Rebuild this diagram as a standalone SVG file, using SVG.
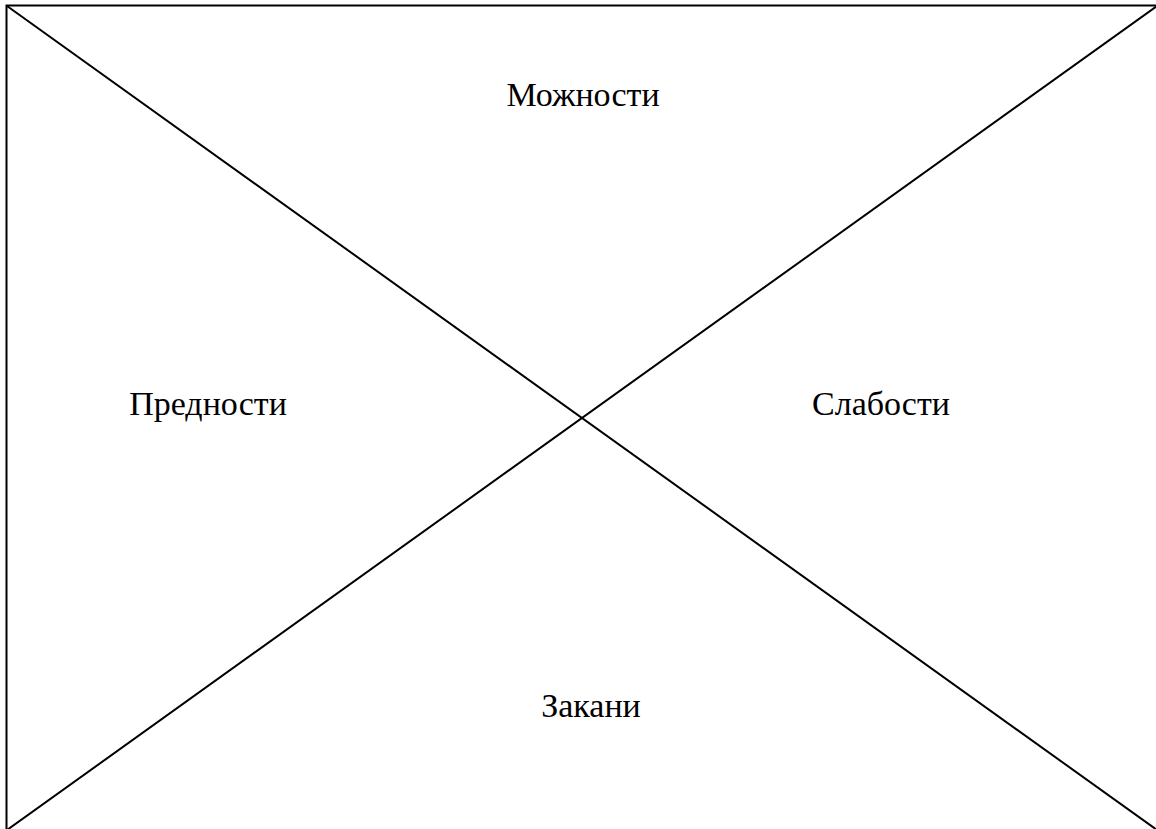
<svg xmlns="http://www.w3.org/2000/svg" width="1156" height="829" viewBox="0 0 1156 829">
<style>
.ln{stroke:#000;stroke-width:2;fill:none}
.lb{font-family:"Liberation Serif","Times New Roman",serif;font-size:34px;fill:#000;text-anchor:middle}
</style>
<rect width="1156" height="829" fill="#fff"/>
<g id="connectors">
<rect class="ln" x="6.5" y="5.5" width="1152" height="826"/>
<line class="ln" x1="7" y1="6" x2="1157" y2="830"/>
<line class="ln" x1="7" y1="830" x2="1157" y2="6"/>
</g>
<g id="opportunities"><text class="lb" x="583" y="106">Можности</text></g>
<g id="strengths"><text class="lb" x="208" y="415">Предности</text></g>
<g id="weaknesses"><text class="lb" x="881" y="415">Слабости</text></g>
<g id="threats"><text class="lb" x="591" y="717">Закани</text></g>
</svg>
